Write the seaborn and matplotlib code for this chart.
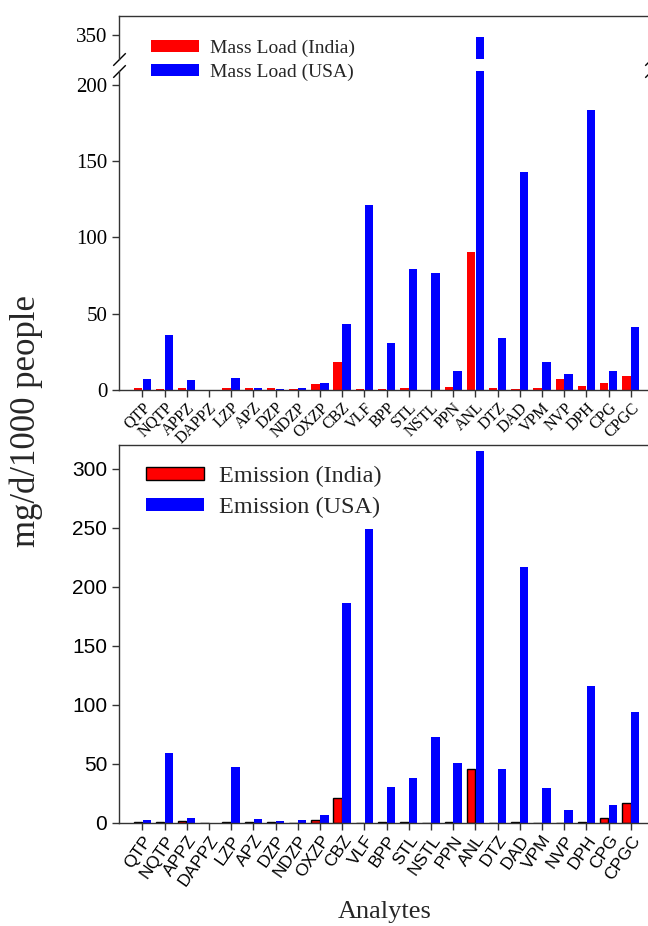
import numpy as np
import pandas as pd
import seaborn as sns
import matplotlib.pyplot as plt
from matplotlib.patches import Patch

# analytes on the x axis
analytes = ['QTP', 'NQTP', 'APPZ', 'DAPPZ', 'LZP', 'APZ', 'DZP', 'NDZP', 'OXZP', 'CBZ',
            'VLF', 'BPP', 'STL', 'NSTL', 'PPN', 'ANL', 'DTZ', 'DAD', 'VPM', 'NVP',
            'DPH', 'CPG', 'CPGC']

# mass load, mg/d/1000 people
mass_india = [1.2, 0.6, 1.3, 0, 1.2, 1.1, 1.2, 0.5, 3.9, 18.4, 0.4, 0.4, 1.2, 0,
              2.0, 90.5, 1.0, 0.4, 1.0, 7.0, 2.6, 4.6, 9.0]
mass_usa = [7.0, 36.0, 6.3, 0, 7.6, 1.3, 0.6, 1.2, 4.6, 43.5, 121.5, 30.5, 79.0, 76.5,
            12.5, 349.0, 34.0, 143.0, 18.3, 10.3, 183.5, 12.5, 41.3]

# emission, mg/d/1000 people
emis_india = [0.5, 1.0, 2.0, 0, 0.5, 1.1, 1.0, 0.4, 2.8, 20.8, 0, 0.5, 0.5, 0,
              1.1, 45.3, 0, 1.1, 0, 0, 1.0, 3.9, 17.2]
emis_usa = [2.5, 59.0, 3.9, 0, 47.5, 3.1, 1.5, 2.3, 6.8, 186.0, 249.0, 30.4, 38.0, 72.5,
            50.5, 315.0, 45.6, 217.0, 29.6, 11.0, 116.0, 15.0, 94.0]

countries = ['India', 'USA']
colors = {'India': '#ff0000', 'USA': '#0000ff'}

def long_df(india, usa):
    return pd.DataFrame({
        'Analyte': analytes * 2,
        'Country': ['India'] * len(analytes) + ['USA'] * len(analytes),
        'value': india + usa,
    })

mass_df = long_df(mass_india, mass_usa)
emis_df = long_df(emis_india, emis_usa)

sns.set_style('ticks')
serif = ['Liberation Serif', 'DejaVu Serif']
sans = ['Liberation Sans', 'DejaVu Sans']
plt.rcParams['font.family'] = serif
plt.rcParams['axes.edgecolor'] = '#333333'
plt.rcParams['axes.linewidth'] = 1.0

W, H = 648, 926
fig = plt.figure(figsize=(W / 100, H / 100), dpi=100)

def box(x0, y0, x1, y1):
    # pixel box (top-left origin) -> figure fraction
    return [x0 / W, 1 - y1 / H, (x1 - x0) / W, (y1 - y0) / H]

ax_hi = fig.add_axes(box(119, 16, 651, 59))
ax_lo = fig.add_axes(box(119, 71, 651, 390))
ax2 = fig.add_axes(box(119, 445, 651, 823))

xlim = (-1.05, 22.91)

for ax in (ax_hi, ax_lo):
    sns.barplot(data=mass_df, x='Analyte', y='value', hue='Country', hue_order=countries,
                palette=colors, saturation=1, errorbar=None, width=0.8, gap=0.05,
                linewidth=0, legend=False, ax=ax)
    ax.set_xlim(*xlim)
    ax.set_xlabel('')
    ax.set_ylabel('')

sns.barplot(data=emis_df, x='Analyte', y='value', hue='Country', hue_order=countries,
            palette=colors, saturation=1, errorbar=None, width=0.8, gap=0.05,
            linewidth=0, legend=False, ax=ax2)
for bar in ax2.containers[0]:
    bar.set_edgecolor('black')
    bar.set_linewidth(1.0)
ax2.set_xlim(*xlim)
ax2.set_xlabel('Analytes', fontsize=19, family=serif, labelpad=9)
ax2.set_ylabel('')

# broken y axis on the mass load panel
ax_hi.set_ylim(334.3, 362.5)
ax_hi.set_yticks([350])
ax_hi.spines['bottom'].set_visible(False)
ax_hi.tick_params(axis='x', bottom=False, labelbottom=False)
ax_lo.set_ylim(0, 209)
ax_lo.set_yticks([0, 50, 100, 150, 200])
ax_lo.spines['top'].set_visible(False)

for ax in (ax_hi, ax_lo):
    ax.tick_params(axis='y', direction='out', length=5, width=1, colors='#333333',
                   labelcolor='black', labelsize=15)
    for lab in ax.get_yticklabels():
        lab.set_family(serif)

ax_lo.tick_params(axis='x', direction='out', length=5, width=1, colors='#333333',
                  labelcolor='black', labelsize=11.5, pad=2)
for lab in ax_lo.get_xticklabels():
    lab.set_rotation(45)
    lab.set_ha('right')
    lab.set_rotation_mode('anchor')
    lab.set_family(serif)

mk = dict(marker=[(-1, -1), (1, 1)], markersize=9, linestyle='none', color='black',
          mec='black', mew=1, clip_on=False)
ax_hi.plot([0, 1], [0, 0], transform=ax_hi.transAxes, **mk)
ax_lo.plot([0, 1], [1, 1], transform=ax_lo.transAxes, **mk)

ax2.set_ylim(0, 320)
ax2.set_yticks([0, 50, 100, 150, 200, 250, 300])
ax2.tick_params(axis='both', direction='out', length=5, width=1, colors='#333333',
                labelcolor='black')
ax2.tick_params(axis='y', labelsize=15)
ax2.tick_params(axis='x', labelsize=12.5, pad=2)
for lab in ax2.get_yticklabels():
    lab.set_family(sans)
for lab in ax2.get_xticklabels():
    lab.set_rotation(55)
    lab.set_ha('right')
    lab.set_rotation_mode('anchor')
    lab.set_family(sans)

for ax in (ax_hi, ax_lo, ax2):
    for sp in ax.spines.values():
        sp.set_color('#333333')

# legends
fig.legend(handles=[Patch(facecolor=colors['India'], edgecolor='none'),
                    Patch(facecolor=colors['USA'], edgecolor='none')],
           labels=['Mass Load (India)', 'Mass Load (USA)'],
           loc='upper left', bbox_to_anchor=(150.7 / W, 1 - 39.5 / H),
           frameon=False, prop={'family': serif, 'size': 14},
           handlelength=2.5, handleheight=0.57, handletextpad=0.55,
           labelspacing=0.33, borderpad=0, borderaxespad=0)
fig.legend(handles=[Patch(facecolor=colors['India'], edgecolor='black', linewidth=1),
                    Patch(facecolor=colors['USA'], edgecolor='none')],
           labels=['Emission (India)', 'Emission (USA)'],
           loc='upper left', bbox_to_anchor=(145.7 / W, 1 - 466 / H),
           frameon=False, prop={'family': serif, 'size': 17.5},
           handlelength=2.4, handleheight=0.46, handletextpad=0.6,
           labelspacing=0.42, borderpad=0, borderaxespad=0)

fig.text(26 / W, 1 - 421 / H, 'mg/d/1000 people', rotation=90, ha='center', va='center',
         fontsize=25, family=serif)

fig.savefig('out.png', dpi=100)
